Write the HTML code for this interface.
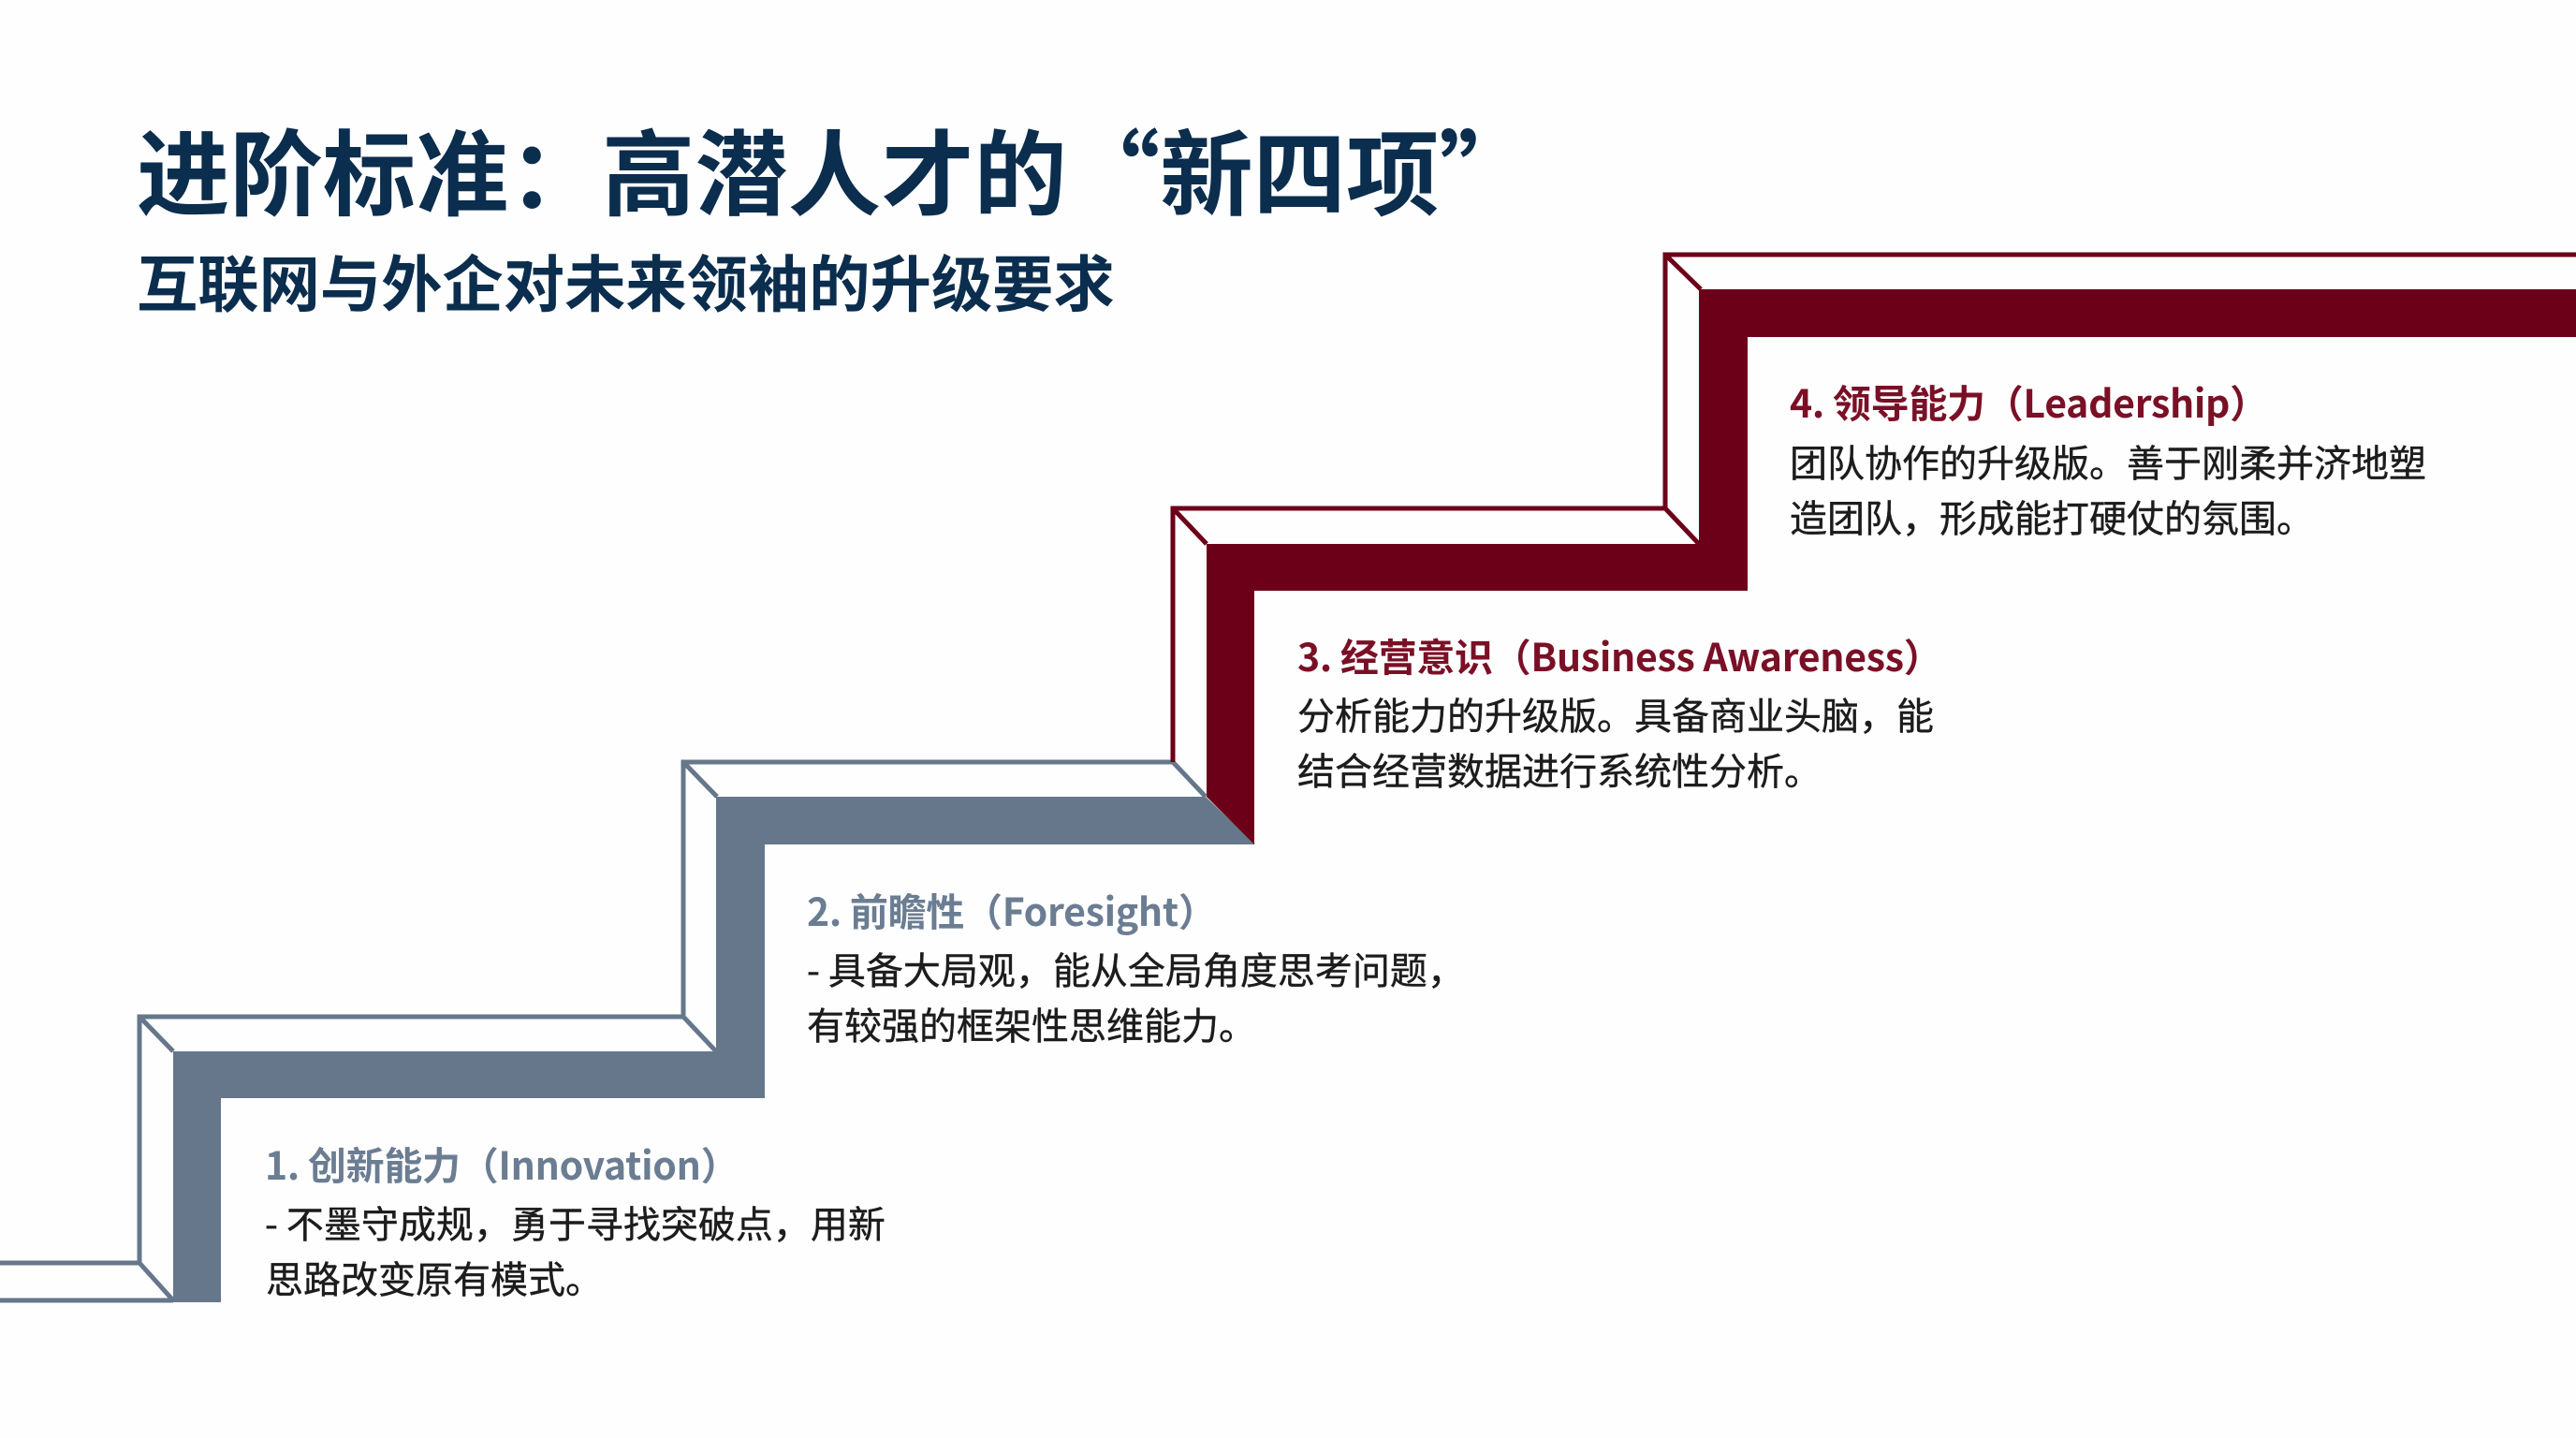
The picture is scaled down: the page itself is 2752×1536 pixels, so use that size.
<!DOCTYPE html>
<html lang="zh-CN">
<head>
<meta charset="utf-8">
<style>
html,body{margin:0;padding:0;width:2752px;height:1536px;background:#fefefe;overflow:hidden}
body{position:relative;font-family:"Noto Sans CJK SC","Liberation Sans",sans-serif}
svg{position:absolute;left:0;top:0}
.t{position:absolute;white-space:nowrap;line-height:1}
.h1{font-weight:700;font-size:99.4px;color:#0b2d4e;left:146px;top:130px}
.h2{font-weight:700;font-size:65.3px;color:#0b2d4e;left:146px;top:266px}
.h{font-weight:700;font-size:41px;letter-spacing:-.3px}
.b{font-size:40px;color:#1c1c1c;-webkit-text-stroke:.4px #1c1c1c}
.s{color:#6b7d92}.m{color:#7a1026}
</style>
</head>
<body>
<svg width="2752" height="1536" viewBox="0 0 2752 1536">
<path fill="#66778b" d="M185,1123H765V851H1288L1341,902H817V1173H236V1391H185Z"/>
<path fill="#6d0019" d="M1289,581H1815V309H2752V360H1867V631H1340V902L1289,851Z"/>
<g fill="none" stroke="#66778b" stroke-width="5">
<path d="M0,1349H149V1086H730V814H1253"/>
<path d="M0,1389H185"/>
<path d="M149,1349L185,1389M149,1086L185,1123M730,1086L765,1123M730,814L766,851M1253,814L1288,851"/>
</g>
<g fill="none" stroke="#6d0019" stroke-width="5">
<path d="M1253,814V543H1779V272H2752"/>
<path d="M1253,543L1289,581M1779,543L1815,581M1779,272L1817,309"/>
</g>
</svg>

<div class="t h1">进阶标准：高潜人才的“新四项”</div>
<div class="t h2">互联网与外企对未来领袖的升级要求</div>

<div class="t h s" style="left:283px;top:1222px">1. 创新能力（Innovation）</div>
<div class="t b" style="left:283px;top:1285px">- 不墨守成规，勇于寻找突破点，用新</div>
<div class="t b" style="left:284px;top:1344px">思路改变原有模式。</div>

<div class="t h s" style="left:862px;top:951px">2. 前瞻性（Foresight）</div>
<div class="t b" style="left:862px;top:1014px">- 具备大局观，能从全局角度思考问题，</div>
<div class="t b" style="left:862px;top:1073px">有较强的框架性思维能力。</div>

<div class="t h m" style="left:1386px;top:679px">3. 经营意识（Business Awareness）</div>
<div class="t b" style="left:1386px;top:742px">分析能力的升级版。具备商业头脑，能</div>
<div class="t b" style="left:1386px;top:801px">结合经营数据进行系统性分析。</div>

<div class="t h m" style="left:1912px;top:408px">4. 领导能力（Leadership）</div>
<div class="t b" style="left:1912px;top:472px">团队协作的升级版。善于刚柔并济地塑</div>
<div class="t b" style="left:1912px;top:531px">造团队，形成能打硬仗的氛围。</div>
</body>
</html>
